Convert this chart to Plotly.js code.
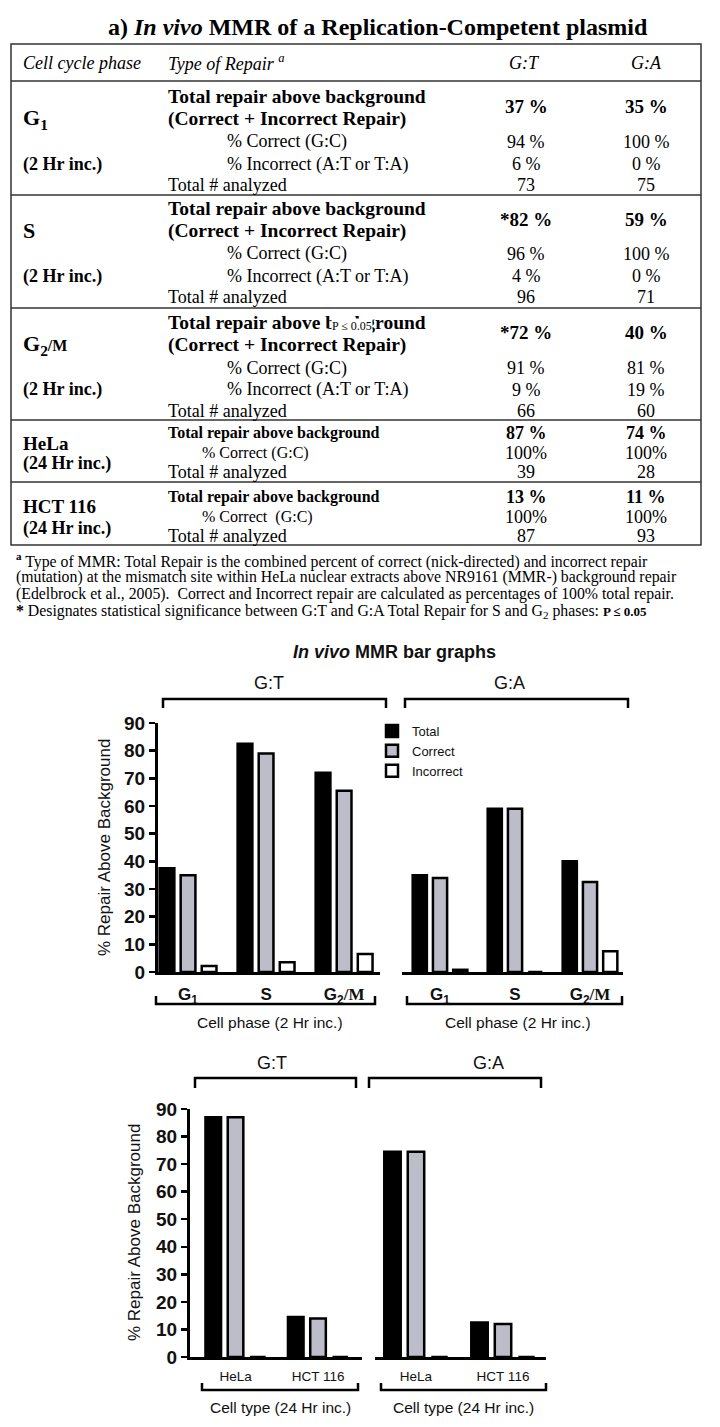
<!DOCTYPE html>
<html>
<head>
<meta charset="utf-8">
<script src="https://cdn.plot.ly/plotly-3.0.1.min.js"></script>
<style>
  html, body { margin: 0; padding: 0; background: #fff; }
  #chart { width: 720px; height: 1427px; }
</style>
</head>
<body>
<div id="chart"></div>
<script>
// table values (G:T and G:A columns)
var phaseLabels = ["G<sub>1</sub>", "S", "G<sub>2</sub><span style='font-size:16px'>/M</span>"];
var gtTotal = [37, 82, 72];
var gaTotal = [35, 59, 40];
var gtStar = ["", "*", "*"];
var gtCorrect = [94, 96, 91];
var gaCorrect = [100, 100, 81];
var gtIncorrect = [6, 4, 9];
var gaIncorrect = [0, 0, 19];
var gtAnalyzed = [73, 96, 66];
var gaAnalyzed = [75, 71, 60];

var cellLabels = ["HeLa", "HCT 116"];
var gtTypeTotal = [87, 13];
var gaTypeTotal = [74, 11];
var gtTypeCorrect = [100, 100];
var gaTypeCorrect = [100, 100];
var gtTypeAnalyzed = [39, 87];
var gaTypeAnalyzed = [28, 93];

// bar heights
var phaseCats = ["G1", "S", "G2M"];
var phaseTicks = ["<b>G<sub>1</sub></b>", "<b>S</b>", "<b>G<sub>2</sub></b><span style='font-family:Liberation Serif'><b>/M</b></span>"];
var gtBarTotal = [37.5, 82.5, 72];
var gtBarCorrect = [35, 79, 65.5];
var gtBarIncorrect = [2.2, 3.5, 6.5];
var gaBarTotal = [35, 59, 40];
var gaBarCorrect = [34, 59, 32.5];
var gaBarIncorrect = [0.8, 0, 7.5];

var cellCats = ["HeLa", "HCT 116"];
var gtCellTotal = [87, 14.5];
var gtCellCorrect = [87, 14];
var gtCellIncorrect = [0, 0];
var gaCellTotal = [74.5, 12.5];
var gaCellCorrect = [74.5, 12];
var gaCellIncorrect = [0, 0];

var W = 720, H = 1427;
var SERIF = "Liberation Serif, Times New Roman, serif";
var SANS = "Liberation Sans, Arial, sans-serif";
function px(x) { return x / W; }
function py(y) { return 1 - y / H; }

function note(text, x, y, size, extra) {
  var a = {
    xref: "paper", yref: "paper", x: px(x), y: py(y), text: text,
    showarrow: false, xanchor: "left", yanchor: "middle",
    font: {family: SERIF, size: size, color: "#000"}
  };
  for (var k in extra) a[k] = extra[k];
  return a;
}
function hline(y, x0, x1, w) {
  return {type: "line", xref: "paper", yref: "paper", x0: px(x0), x1: px(x1),
    y0: py(y), y1: py(y), line: {color: "#333", width: w}};
}
function bracket(x0, x1, y, tipY) {
  var p = "M" + px(x0) + "," + py(tipY) + " L" + px(x0) + "," + py(y) +
    " L" + px(x1) + "," + py(y) + " L" + px(x1) + "," + py(tipY);
  return {type: "path", xref: "paper", yref: "paper", path: p, line: {color: "#000", width: 2.5}};
}

var ann = [];
var shapes = [];

// ---- table ----
ann.push(note("<b>a) <i>In vivo</i> MMR of a Replication-Competent plasmid</b>", 378, 27, 24, {xanchor: "center"}));
ann.push(note("<i>Cell cycle phase</i>", 21, 63, 18));
ann.push(note("<i>Type of Repair <sup>a</sup></i>", 166, 63, 18));
ann.push(note("<i>G:T</i>", 524, 63, 18, {xanchor: "center"}));
ann.push(note("<i>G:A</i>", 646, 63, 18, {xanchor: "center"}));

var secTop = [96, 208, 322];
for (var i = 0; i < 3; i++) {
  var t = secTop[i];
  ann.push(note("<b>" + phaseLabels[i] + "</b>", 21, t + 23, 22));
  ann.push(note("<b>(2 Hr inc.)</b>", 21, t + 68, 18));
  ann.push(note("<b>Total repair above background</b>", 166, t, 19.5));
  ann.push(note("<b>(Correct + Incorrect Repair)</b>", 166, t + 23, 19.5));
  ann.push(note("% Correct (G:C)", 225, t + 46, 18));
  ann.push(note("% Incorrect (A:T or T:A)", 225, t + 68, 18));
  ann.push(note("Total # analyzed", 166, t + 89, 18));
  ann.push(note("<b>" + gtStar[i] + gtTotal[i] + " %</b>", 526, t + 11, 19, {xanchor: "center"}));
  ann.push(note("<b>" + gaTotal[i] + " %</b>", 646, t + 11, 19, {xanchor: "center"}));
  ann.push(note(gtCorrect[i] + " %", 526, t + 46, 18, {xanchor: "center"}));
  ann.push(note(gaCorrect[i] + " %", 646, t + 46, 18, {xanchor: "center"}));
  ann.push(note(gtIncorrect[i] + " %", 526, t + 68, 18, {xanchor: "center"}));
  ann.push(note(gaIncorrect[i] + " %", 646, t + 68, 18, {xanchor: "center"}));
  ann.push(note(String(gtAnalyzed[i]), 526, t + 89, 18, {xanchor: "center"}));
  ann.push(note(String(gaAnalyzed[i]), 646, t + 89, 18, {xanchor: "center"}));
}
// stray p-value label sitting over the G2/M row
ann.push(note("P \u2264 0.05", 352, 326, 12, {xanchor: "center", bgcolor: "#fff", borderpad: 0}));

var typeTop = [433, 497];
var correctText = ["% Correct (G:C)", "% Correct  (G:C)"];
for (var j = 0; j < 2; j++) {
  var u = typeTop[j];
  ann.push(note("<b>" + cellLabels[j] + "</b>", 21, u + 10, 19));
  ann.push(note("<b>(24 Hr inc.)</b>", 21, u + 31, 18));
  ann.push(note("<b>Total repair above background</b>", 166, u, 16));
  ann.push(note(correctText[j], 200, u + 20, 16));
  ann.push(note("Total # analyzed", 166, u + 39, 18));
  ann.push(note("<b>" + gtTypeTotal[j] + " %</b>", 526, u, 18, {xanchor: "center"}));
  ann.push(note("<b>" + gaTypeTotal[j] + " %</b>", 646, u, 18, {xanchor: "center"}));
  ann.push(note(gtTypeCorrect[j] + "%", 526, u + 20, 18, {xanchor: "center"}));
  ann.push(note(gaTypeCorrect[j] + "%", 646, u + 20, 18, {xanchor: "center"}));
  ann.push(note(String(gtTypeAnalyzed[j]), 526, u + 39, 18, {xanchor: "center"}));
  ann.push(note(String(gaTypeAnalyzed[j]), 646, u + 39, 18, {xanchor: "center"}));
}

shapes.push({type: "rect", xref: "paper", yref: "paper", x0: px(11), x1: px(701),
  y0: py(545), y1: py(44), line: {color: "#333", width: 1.5}});
[81, 195, 308, 420, 482].forEach(function (y) { shapes.push(hline(y, 11, 701, 1.5)); });

ann.push(note("<sup><b>a</b></sup> Type of MMR: Total Repair is the combined percent of correct (nick-directed) and incorrect repair", 14, 560, 15.8));
ann.push(note("(mutation) at the mismatch site within HeLa nuclear extracts above NR9161 (MMR-) background repair", 14, 577, 15.8));
ann.push(note("(Edelbrock et al., 2005).  Correct and Incorrect repair are calculated as percentages of 100% total repair.", 14, 594, 15.8));
ann.push(note("<b>*</b> Designates statistical significance between G:T and G:A Total Repair for S and G<sub>2</sub> phases: <b><span style='font-size:13px'>P \u2264 0.05</span></b>", 14, 611, 15.8));

// ---- bar graphs ----
function sans(text, x, y, size, extra) {
  var a = note(text, x, y, size, extra);
  a.font = {family: SANS, size: size, color: "#111"};
  return a;
}
ann.push(sans("<b><i>In vivo</i> MMR bar graphs</b>", 394, 652, 18, {xanchor: "center"}));
ann.push(sans("G:T", 269, 683, 18, {xanchor: "center"}));
ann.push(sans("G:A", 509, 683, 18, {xanchor: "center"}));
ann.push(sans("Cell phase (2 Hr inc.)", 270, 1022, 15.5, {xanchor: "center"}));
ann.push(sans("Cell phase (2 Hr inc.)", 518, 1022, 15.5, {xanchor: "center"}));
ann.push(sans("% Repair Above Background", 104, 847, 17, {xanchor: "center", textangle: -90}));
ann.push(sans("G:T", 272, 1063, 18, {xanchor: "center"}));
ann.push(sans("G:A", 488, 1063, 18, {xanchor: "center"}));
ann.push(sans("Cell type (24 Hr inc.)", 280, 1407, 15.5, {xanchor: "center"}));
ann.push(sans("Cell type (24 Hr inc.)", 463, 1407, 15.5, {xanchor: "center"}));
ann.push(sans("% Repair Above Background", 134, 1233, 17, {xanchor: "center", textangle: -90}));

shapes.push(bracket(163, 386, 699, 708));
shapes.push(bracket(405, 628, 699, 708));
shapes.push(bracket(156, 375, 1004, 996));
shapes.push(bracket(407, 622, 1004, 996));
shapes.push(bracket(195, 356, 1078, 1088));
shapes.push(bracket(369, 541, 1078, 1088));
shapes.push(bracket(202, 358, 1390, 1383));
shapes.push(bracket(381, 546, 1390, 1383));

var fills = {Total: "#000000", Correct: "#bdbdc9", Incorrect: "#ffffff"};
function bars(name, cats, vals, xa, ya, legend) {
  return {
    type: "bar", name: name, x: cats, y: vals, xaxis: xa, yaxis: ya,
    showlegend: legend, legendgroup: name,
    marker: {color: fills[name], line: {color: "#000", width: 2.5}},
    hoverinfo: "skip"
  };
}

var data = [
  bars("Total", phaseCats, gtBarTotal, "x", "y", true),
  bars("Correct", phaseCats, gtBarCorrect, "x", "y", true),
  bars("Incorrect", phaseCats, gtBarIncorrect, "x", "y", true),
  bars("Total", phaseCats, gaBarTotal, "x2", "y2", false),
  bars("Correct", phaseCats, gaBarCorrect, "x2", "y2", false),
  bars("Incorrect", phaseCats, gaBarIncorrect, "x2", "y2", false),
  bars("Total", cellCats, gtCellTotal, "x3", "y3", false),
  bars("Correct", cellCats, gtCellCorrect, "x3", "y3", false),
  bars("Incorrect", cellCats, gtCellIncorrect, "x3", "y3", false),
  bars("Total", cellCats, gaCellTotal, "x4", "y4", false),
  bars("Correct", cellCats, gaCellCorrect, "x4", "y4", false),
  bars("Incorrect", cellCats, gaCellIncorrect, "x4", "y4", false)
];

function xAxis(domain, range, anchor, cats, ticks, size, standoff) {
  return {
    type: "category", domain: domain, range: range, anchor: anchor,
    showline: true, linewidth: 3, linecolor: "#000", showgrid: false, zeroline: false,
    ticks: "", tickvals: cats, ticktext: ticks, ticklabelstandoff: standoff,
    tickfont: {family: SANS, size: size, color: "#111"}, fixedrange: true
  };
}
function yAxis(domain, anchor, visible) {
  return {
    domain: domain, range: [0, 90], anchor: anchor, visible: visible,
    dtick: 10, ticks: "outside", ticklen: 6, tickwidth: 2.5, tickcolor: "#000",
    showline: true, linewidth: 3, linecolor: "#000", showgrid: false, zeroline: false,
    tickfont: {family: SANS, size: 19, color: "#111", weight: "bold"}, fixedrange: true
  };
}

var topY = [py(972), py(723)];
var botY = [py(1357), py(1109)];

var layout = {
  width: W, height: H,
  margin: {l: 0, r: 0, t: 0, b: 0},
  paper_bgcolor: "#fff", plot_bgcolor: "rgba(0,0,0,0)",
  barmode: "group", bargap: 0.19, bargroupgap: 0.3,
  xaxis: xAxis([px(158), px(380)], [-0.385, 2.46], "y", phaseCats, phaseTicks, 17, 5),
  yaxis: yAxis(topY, "x", true),
  xaxis2: xAxis([px(402), px(623)], [-0.507, 2.44], "y2", phaseCats, phaseTicks, 17, 5),
  yaxis2: yAxis(topY, "x2", false),
  xaxis3: xAxis([px(190), px(362)], [-0.552, 1.533], "y3", cellCats, cellCats, 13.5, 5),
  yaxis3: yAxis(botY, "x3", true),
  xaxis4: xAxis([px(375), px(546)], [-0.471, 1.494], "y4", cellCats, cellCats, 13.5, 5),
  yaxis4: yAxis(botY, "x4", false),
  legend: {x: px(372), y: py(716), xanchor: "left", yanchor: "top",
    font: {family: SANS, size: 13, color: "#111"}, bgcolor: "rgba(0,0,0,0)",
    itemwidth: 30, tracegroupgap: 0},
  annotations: ann,
  shapes: shapes
};

Plotly.newPlot("chart", data, layout, {staticPlot: true});
</script>
</body>
</html>
